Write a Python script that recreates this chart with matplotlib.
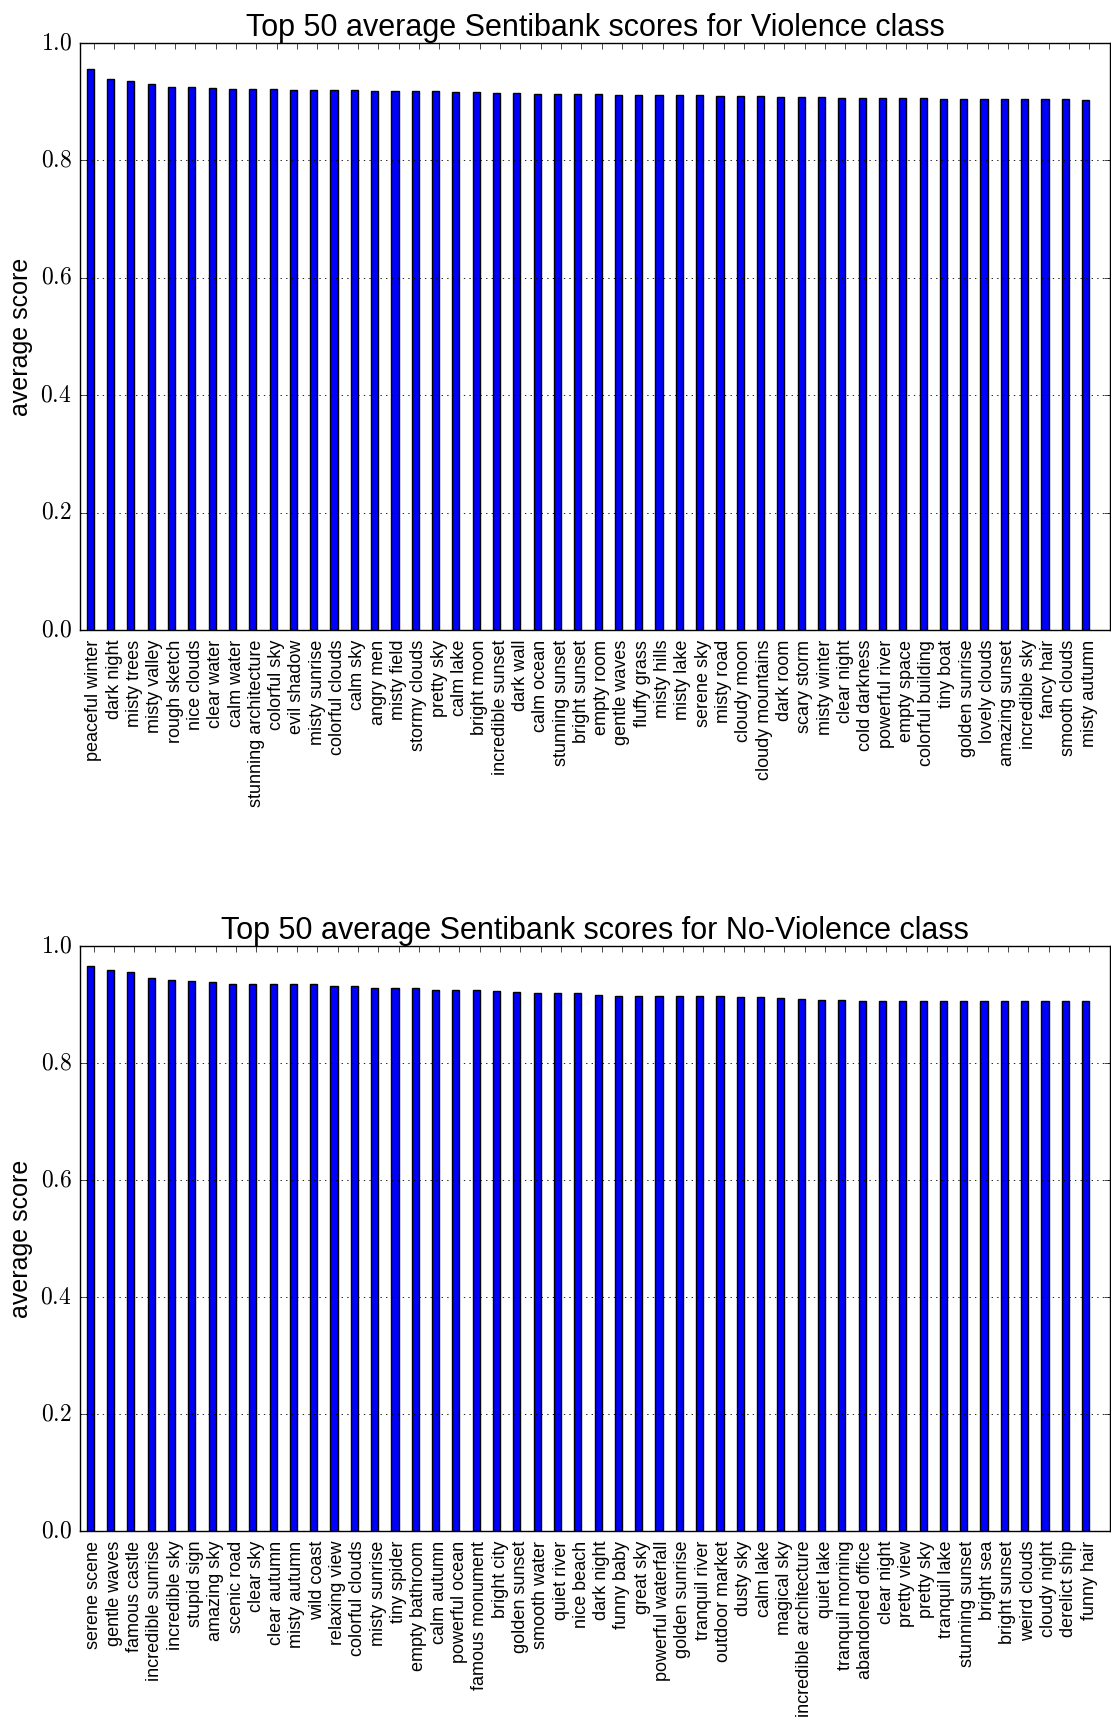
import numpy as np
import matplotlib
matplotlib.use('Agg')
from matplotlib import pyplot as plt
from matplotlib.ticker import FuncFormatter

# Violence class
v_labels = ['peaceful winter', 'dark night', 'misty trees', 'misty valley', 'rough sketch',
            'nice clouds', 'clear water', 'calm water', 'stunning architecture', 'colorful sky',
            'evil shadow', 'misty sunrise', 'colorful clouds', 'calm sky', 'angry men',
            'misty field', 'stormy clouds', 'pretty sky', 'calm lake', 'bright moon',
            'incredible sunset', 'dark wall', 'calm ocean', 'stunning sunset', 'bright sunset',
            'empty room', 'gentle waves', 'fluffy grass', 'misty hills', 'misty lake',
            'serene sky', 'misty road', 'cloudy moon', 'cloudy mountains', 'dark room',
            'scary storm', 'misty winter', 'clear night', 'cold darkness', 'powerful river',
            'empty space', 'colorful building', 'tiny boat', 'golden sunrise', 'lovely clouds',
            'amazing sunset', 'incredible sky', 'fancy hair', 'smooth clouds', 'misty autumn']
v_scores = [0.9557, 0.9386, 0.9347, 0.9301, 0.9256, 0.9244, 0.9227, 0.9216, 0.9216, 0.9216,
            0.9205, 0.9205, 0.9199, 0.9193, 0.9182, 0.9176, 0.9176, 0.9176, 0.9165, 0.9159,
            0.9148, 0.9142, 0.9136, 0.9128, 0.9125, 0.9125, 0.9114, 0.9114, 0.9114, 0.9108,
            0.9108, 0.9102, 0.9091, 0.9091, 0.9085, 0.9074, 0.9074, 0.9068, 0.9068, 0.9068,
            0.9068, 0.9057, 0.9051, 0.9051, 0.9045, 0.9045, 0.9045, 0.9045, 0.9045, 0.9034]

# No-Violence class
nv_labels = ['serene scene', 'gentle waves', 'famous castle', 'incredible sunrise', 'incredible sky',
             'stupid sign', 'amazing sky', 'scenic road', 'clear sky', 'clear autumn',
             'misty autumn', 'wild coast', 'relaxing view', 'colorful clouds', 'misty sunrise',
             'tiny spider', 'empty bathroom', 'calm autumn', 'powerful ocean', 'famous monument',
             'bright city', 'golden sunset', 'smooth water', 'quiet river', 'nice beach',
             'dark night', 'funny baby', 'great sky', 'powerful waterfall', 'golden sunrise',
             'tranquil river', 'outdoor market', 'dusty sky', 'calm lake', 'magical sky',
             'incredible architecture', 'quiet lake', 'tranquil morning', 'abandoned office', 'clear night',
             'pretty view', 'pretty sky', 'tranquil lake', 'stunning sunset', 'bright sea',
             'bright sunset', 'weird clouds', 'cloudy night', 'derelict ship', 'funny hair']
nv_scores = [0.9651, 0.9583, 0.9554, 0.9451, 0.9417, 0.9406, 0.9383, 0.9360, 0.9354, 0.9354,
             0.9349, 0.9349, 0.9326, 0.9309, 0.9291, 0.9280, 0.9280, 0.9257, 0.9251, 0.9246,
             0.9234, 0.9217, 0.9206, 0.9194, 0.9194, 0.9166, 0.9154, 0.9154, 0.9149, 0.9149,
             0.9143, 0.9143, 0.9137, 0.9126, 0.9114, 0.9103, 0.9074, 0.9074, 0.9069, 0.9069,
             0.9063, 0.9063, 0.9063, 0.9063, 0.9063, 0.9063, 0.9063, 0.9063, 0.9063, 0.9057]

plt.style.use('classic')
plt.rcParams['mathtext.fontset'] = 'cm'
plt.rcParams['font.family'] = ['Liberation Sans', 'DejaVu Sans']

width = 0.35
fig = plt.figure(figsize=(11.11, 17.28), dpi=100, facecolor='white')

panels = [
    ([0.072, 0.6354, 0.927, 0.3397], v_labels, v_scores, 'Top 50 average Sentibank scores for Violence class'),
    ([0.072, 0.1140, 0.927, 0.3385], nv_labels, nv_scores, 'Top 50 average Sentibank scores for No-Violence class'),
]

for rect, labels, scores, title in panels:
    ax = fig.add_axes(rect)
    ind = np.arange(len(scores))
    ax.bar(ind, scores, width, align='edge', color='b', edgecolor='k', linewidth=1.0)
    ax.set_xlim(-0.33, len(scores) + 0.37)
    ax.set_ylim(0, 1.0)
    ax.set_xticks(ind + width)
    ax.set_xticklabels(labels, rotation='vertical', fontsize=13)
    ax.set_yticks([0.0, 0.2, 0.4, 0.6, 0.8, 1.0])
    ax.yaxis.set_major_formatter(FuncFormatter(lambda v, p: r'$%.1f$' % v))
    ax.tick_params(axis='y', labelsize=17, pad=6)
    ax.tick_params(axis='x', pad=7)
    ax.yaxis.grid(True, linestyle=':', color='k', linewidth=0.6)
    ax.xaxis.grid(False)
    ax.set_ylabel('average score', fontsize=18)
    ax.set_title(title, fontsize=22, pad=5)

fig.savefig('out.png', dpi=100, facecolor='white')
